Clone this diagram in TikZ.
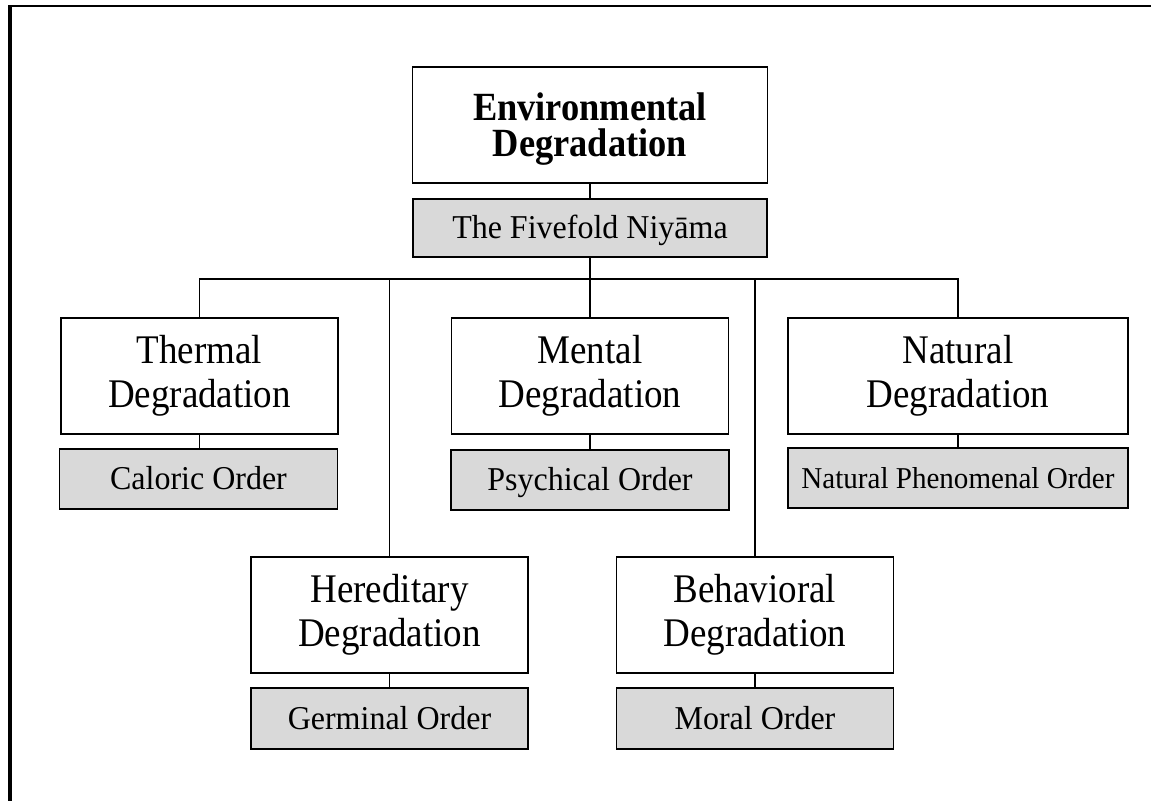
\documentclass[tikz,border=0pt]{standalone}
\usepackage{fontspec}
\setmainfont{Liberation Serif}
\newfontfamily\degfont{Liberation Serif}[FakeStretch=0.91]
\newfontfamily\ordfont{Liberation Serif}[FakeStretch=0.96]
\begin{document}
\begin{tikzpicture}[x=0.75pt,y=-0.75pt,
  degbox/.style={draw=black,line width=1.2pt,fill=white,rectangle,inner sep=0pt,
    minimum width=277*0.75pt,minimum height=116*0.75pt,align=center,
    font=\degfont\fontsize{30.5}{33}\selectfont},
  ordbox/.style={draw=black,line width=1.2pt,fill=black!15,rectangle,inner sep=0pt,
    minimum width=278*0.75pt,minimum height=60*0.75pt,align=center,
    text height=17.5pt,text depth=1.2pt,
    font=\ordfont\fontsize{25}{29}\selectfont},
  conn/.style={draw=black,line width=1pt}]
\useasboundingbox (0,0) rectangle (1151,801);
% frame (top and left only)
\draw[line width=1.5pt] (8,6) -- (1151,6);
\draw[line width=3pt] (10,5) -- (10,801);
% nodes
\node[degbox,minimum width=355*0.75pt,text height=53.1pt,text depth=6.6pt,
  font=\degfont\bfseries\fontsize{30}{27}\selectfont] (env) at (590,125) {Environmental\\Degradation};
\node[ordbox,minimum width=354*0.75pt,minimum height=58*0.75pt] (niy) at (590,228) {The Fivefold Niyāma};
\node[degbox] (therm) at (199.5,376) {Thermal\\Degradation};
\node[ordbox] (calor) at (198.5,479) {Caloric Order};
\node[degbox] (mental) at (590,376) {Mental\\Degradation};
\node[ordbox] (psych) at (590,480) {Psychical Order};
\node[degbox,minimum width=340*0.75pt] (natural) at (958,376) {Natural\\Degradation};
\node[ordbox,minimum width=340*0.75pt,font=\ordfont\fontsize{22.7}{27}\selectfont] (npo) at (958,478) {Natural Phenomenal Order};
\node[degbox] (hered) at (389.5,615) {Hereditary\\Degradation};
\node[ordbox,minimum width=277*0.75pt,minimum height=61*0.75pt] (germ) at (389.5,718.5) {Germinal Order};
\node[degbox] (behav) at (755,615) {Behavioral\\Degradation};
\node[ordbox,minimum width=277*0.75pt,minimum height=61*0.75pt] (moral) at (755,718.5) {Moral Order};
\coordinate (bus) at (590,279);
% connectors
\draw[conn] (env.south) -- (niy.north);
\draw[conn] (niy.south) -- (bus);
\draw[conn] (therm.north) -- (therm.north |- bus) -- (natural.north |- bus) -- (natural.north);
\draw[conn] (bus) -- (mental.north);
\draw[conn] (hered.north) -- (hered.north |- bus);
\draw[conn] (behav.north) -- (behav.north |- bus);
\draw[conn] (therm.south) -- (therm.south |- calor.north);
\draw[conn] (mental.south) -- (psych.north);
\draw[conn] (natural.south) -- (npo.north);
\draw[conn] (hered.south) -- (germ.north);
\draw[conn] (behav.south) -- (moral.north);
\end{tikzpicture}
\end{document}
